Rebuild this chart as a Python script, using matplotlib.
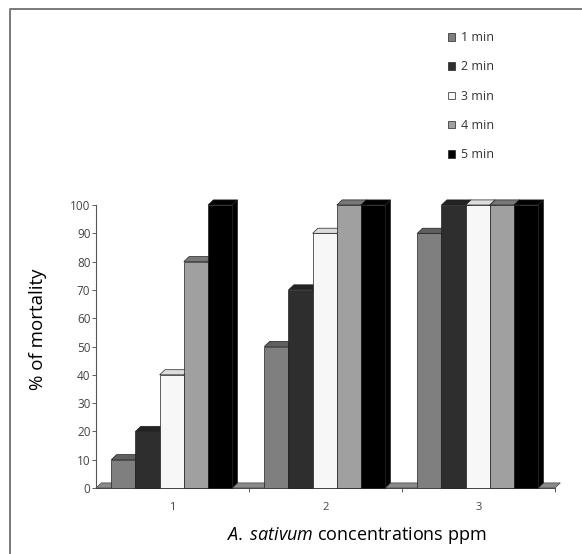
import numpy as np
import matplotlib.pyplot as plt
from matplotlib.patches import Polygon, Rectangle, Patch
from matplotlib.lines import Line2D

# -------------------------------------------------
# Data
# -------------------------------------------------

concentrations = ["1", "2", "3"]
times = ["1 min", "2 min", "3 min", "4 min", "5 min"]

min1 = [10, 50, 90]
min2 = [20, 70, 100]
min3 = [40, 90, 100]
min4 = [80, 100, 100]
min5 = [100, 100, 100]
series = [min1, min2, min3, min4, min5]

colors = ["#7f7f7f", "#2e2e2e", "#f7f7f7", "#a0a0a0", "#000000"]

# -------------------------------------------------
# Figure
# -------------------------------------------------

plt.rcParams["font.family"] = ["Open Sans", "DejaVu Sans"]
plt.rcParams["mathtext.fontset"] = "custom"
plt.rcParams["mathtext.it"] = "Open Sans:italic"
plt.rcParams["mathtext.rm"] = "Open Sans"

fig = plt.figure(figsize=(5.82, 5.54), dpi=100)
ax = fig.add_axes([96 / 582, 66 / 554, 459 / 582, 283 / 554])

# frame (only top and left edges visible in the original crop)
fig.lines.append(Line2D([10 / 582, 10 / 582, 1.0], [0.0, 1 - 9 / 554, 1 - 9 / 554],
                        transform=fig.transFigure, color="#7a7a7a",
                        linewidth=1.4))

width = 0.158
start = 0.1
dx = 0.035
dy = 1.8


def shade(c, f):
    rgb = np.array(plt.matplotlib.colors.to_rgb(c))
    return tuple(rgb * f)


# floor
floor = Polygon([(0, 0), (3, 0), (3 + dx, dy), (dx, dy)],
                closed=True, facecolor="#8a8a8a", edgecolor="#444444",
                linewidth=0.5, clip_on=False, zorder=1)
ax.add_patch(floor)

for g in range(len(concentrations)):
    for i, vals in enumerate(series):
        x0 = g + start + i * width
        h = vals[g]
        c = colors[i]
        front = Rectangle((x0, 0), width, h, facecolor=c,
                          edgecolor="#222222", linewidth=0.5,
                          clip_on=False, zorder=2 + i)
        top = Polygon([(x0, h), (x0 + width, h),
                       (x0 + width + dx, h + dy), (x0 + dx, h + dy)],
                      closed=True, facecolor=shade(c, 0.75) if i != 2 else "#dddddd",
                      edgecolor="#222222", linewidth=0.5,
                      clip_on=False, zorder=2 + i)
        side = Polygon([(x0 + width, 0), (x0 + width + dx, dy),
                        (x0 + width + dx, h + dy), (x0 + width, h)],
                       closed=True, facecolor=shade(c, 0.6) if i != 2 else "#bbbbbb",
                       edgecolor="#222222", linewidth=0.5,
                       clip_on=False, zorder=2 + i)
        ax.add_patch(side)
        ax.add_patch(front)
        ax.add_patch(top)

ax.set_xlim(0, 3)
ax.set_ylim(0, 100)

ax.spines["top"].set_visible(False)
ax.spines["right"].set_visible(False)
ax.spines["left"].set_color("#555555")
ax.spines["bottom"].set_color("#444444")
ax.spines["left"].set_linewidth(0.8)
ax.spines["bottom"].set_linewidth(0.7)

ax.set_yticks(np.arange(0, 101, 10))
ax.tick_params(axis="y", labelsize=8.5, length=3, width=0.6,
               colors="#444444", pad=1)

ax.set_xticks([1, 2, 3])
ax.set_xticklabels([])
ax.set_xticks([0.5, 1.5, 2.5], minor=True)
ax.set_xticklabels(concentrations, minor=True)
ax.tick_params(axis="x", which="major", length=3, width=0.6,
               colors="#444444")
ax.tick_params(axis="x", which="minor", length=0, labelsize=8,
               labelcolor="#444444", pad=10)

fig.text(38 / 582, 1 - 329 / 554, "% of mortality", rotation=90,
         ha="center", va="center", fontsize=13.5)

fig.text(356 / 582, 19 / 554,
         r"$\mathit{A.}$ $\mathit{sativum}$ concentrations ppm",
         ha="center", va="center", fontsize=13)

handles = [Patch(facecolor=c, edgecolor="#222222", linewidth=0.5)
           for c in colors]
ax.legend(handles, times, loc="upper left",
          bbox_to_anchor=(437 / 582, 1 - 20 / 554),
          bbox_transform=fig.transFigure, frameon=False,
          fontsize=9, handlelength=0.55, handleheight=0.55,
          handletextpad=0.45, labelspacing=1.3, labelcolor="#333333")

plt.savefig("out.png", dpi=100)
plt.close()
